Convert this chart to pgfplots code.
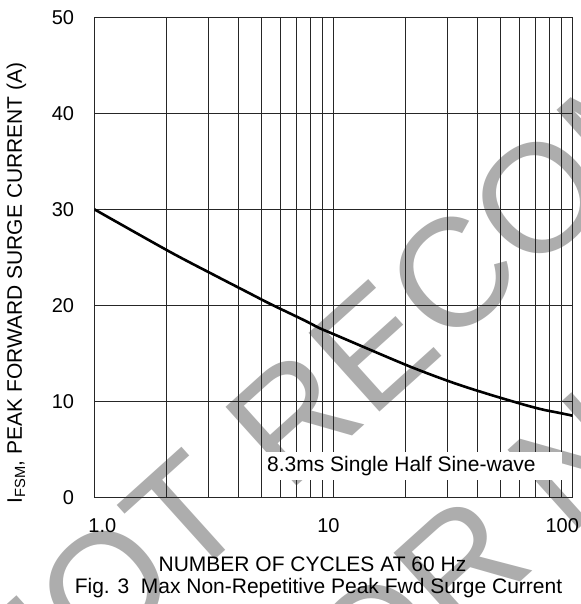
\documentclass[border=0pt]{standalone}
\usepackage{fontspec}
\setmainfont{Liberation Sans}
\usepackage{pgfplots}
\pgfplotsset{compat=1.18}

% surge curve
\pgfplotstableread{
cycles  ifsm
1       30.0
2.06    25.6
3.2     23.1
4.34    21.4
5.38    20.2
6.52    19.2
7.6     18.4
8.78    17.6
10      17.0
20.5    13.7
31.9    11.9
43.7    10.8
54.2    10.1
65.7    9.5
76.1    9.1
87.6    8.8
100     8.5
}\surge

\begin{document}
\begin{tikzpicture}
\useasboundingbox (-94.3pt,-106.7pt) rectangle (485.7pt,497.3pt);

% watermark behind the chart
\begin{scope}
  \clip (-94.3pt,-106.7pt) rectangle (485.7pt,497.3pt);
  \node[rotate=42, text=black!32, inner sep=0pt,
        font=\fontsize{154}{154}\selectfont] at (482pt,334pt) {NOT RECOMMENDED};
  \node[rotate=42, text=black!32, inner sep=0pt,
        font=\fontsize{154}{154}\selectfont] at (672pt,208pt) {FOR NEW DESIGN};
\end{scope}

\begin{axis}[
  at={(0,0)}, anchor=south west,
  scale only axis,
  width=478.4pt, height=480pt,
  xmode=log,
  xmin=1, xmax=100,
  ymin=0, ymax=50,
  ytick={0,10,...,50},
  xtick={1,10,100},
  xticklabels={\hspace*{16pt}1.0, 10\hspace*{10pt}, 100\hspace*{21pt}},
  minor xtick={2,...,9,20,30,...,90},
  grid=both,
  major grid style={black!85, line width=0.9pt},
  minor grid style={black!85, line width=0.9pt},
  axis line style={black!85, line width=0.9pt},
  major tick length=0pt, minor tick length=0pt,
  tick label style={font=\fontsize{20}{24}\selectfont},
  /pgf/number format/assume math mode=true,
  yticklabel style={anchor=east, inner sep=0pt, xshift=-20pt},
  xticklabel style={anchor=north, inner sep=0pt, yshift=-21pt},
]
\addplot[black, line width=2.6pt, smooth, tension=0.5] table[x=cycles, y=ifsm] {\surge};
\end{axis}

% condition box
\fill[white] (169.7pt,17.3pt) rectangle (467.7pt,45.3pt);
\node[anchor=base west, inner sep=0pt, font=\fontsize{21}{25}\selectfont]
  at (172.7pt,25.6pt) {8.3ms Single Half Sine-wave};

% axis titles and caption
\node[rotate=90, font=\fontsize{21}{25}\selectfont] at (-77.8pt,214.3pt)
  {I\textsubscript{FSM}, PEAK FORWARD SURGE CURRENT (A)};
\node[font=\fontsize{21}{25}\selectfont] at (218.2pt,-66.7pt)
  {NUMBER OF CYCLES AT 60 Hz};
\node[font=\fontsize{21}{25}\selectfont] at (224.2pt,-90.7pt)
  {Fig. 3\ \ Max Non-Repetitive Peak Fwd Surge Current};
\end{tikzpicture}
\end{document}
